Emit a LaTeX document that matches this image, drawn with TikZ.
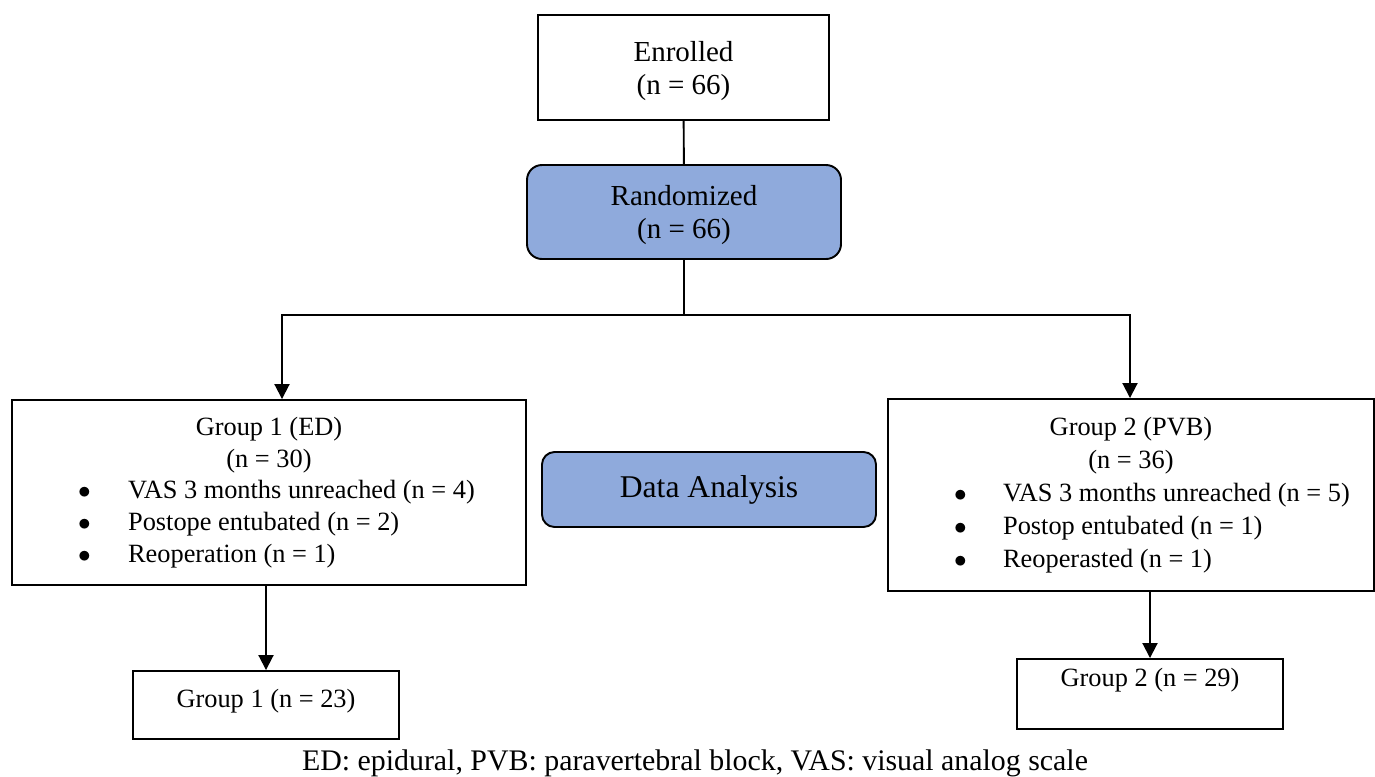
\documentclass[tikz,border=0pt]{standalone}
\usepackage{fontspec}
\setmainfont{Liberation Serif}
\usepackage{tikz}
\usetikzlibrary{shapes,arrows}
\usetikzlibrary{positioning}
\usetikzlibrary{calc}
\usetikzlibrary{arrows.meta}
\definecolor{flowblue}{RGB}{143,170,220}
\tikzstyle{line} = [draw, line width=1.1pt, -{Triangle[length=0.30cm,width=0.30cm]}]

\begin{document}
\begin{tikzpicture}[
	every node/.style={font=\fontsize{15}{18}\selectfont},
	box/.style={draw, rectangle, line width=1.1pt, fill=white, align=center},
	bluebox/.style={box, rounded corners=0.3cm, fill=flowblue},
	big/.style={font=\fontsize{16.5}{18.8}\selectfont}]
	\useasboundingbox (0,0) rectangle (27.5,-15.52);
	%% Boxes
	\node [box, big, minimum width=5.82cm, minimum height=2.10cm, text height=1.22cm] at (13.67,-1.35) (enr) {Enrolled\\(n = 66)};
	\node [bluebox, big, minimum width=6.28cm, minimum height=1.88cm, text height=1.18cm] at (13.68,-4.24) (rand) {Randomized\\(n = 66)};
	\node [box, minimum width=10.28cm, minimum height=3.70cm, inner sep=0pt] at (5.38,-9.85) (ed)
		{\begin{tabular}{@{\hspace{0.30cm}}p{0.84cm}@{\hspace{0.16cm}}l@{}}
		\multicolumn{2}{@{}c@{}}{Group 1 (ED)}\\
		\multicolumn{2}{@{}c@{}}{(n = 30)}\\
		$\bullet$ & VAS 3 months unreached (n = 4)\\
		$\bullet$ & Postope entubated (n = 2)\\
		$\bullet$ & Reoperation (n = 1)
		\end{tabular}};
	\node [bluebox, rounded corners=0.25cm, font=\fontsize{18}{21}\selectfont, minimum width=6.68cm, minimum height=1.50cm] at (14.18,-9.79) (da) {Data Analysis};
	\node [box, minimum width=9.72cm, minimum height=3.84cm, inner sep=0pt, font=\fontsize{15}{18.8}\selectfont] at (22.62,-9.90) (pvb)
		{\begin{tabular}{@{\hspace{0.84cm}}p{0.82cm}@{\hspace{0.16cm}}l@{}}
		\multicolumn{2}{@{}c@{}}{Group 2 (PVB)}\\
		\multicolumn{2}{@{}c@{}}{(n = 36)}\\
		$\bullet$ & VAS 3 months unreached (n = 5)\\
		$\bullet$ & Postop entubated (n = 1)\\
		$\bullet$ & Reoperasted (n = 1)
		\end{tabular}};
	\node [box, minimum width=5.32cm, minimum height=1.36cm, text height=0.40cm, text depth=0.32cm] at (5.32,-14.10) (g1) {Group 1 (n = 23)};
	\node [box, minimum width=5.32cm, minimum height=1.40cm, text height=0.30cm, text depth=0.62cm] at (23.00,-13.88) (g2) {Group 2 (n = 29)};
	\node [font=\fontsize{17}{20}\selectfont, anchor=base] at (13.90,-15.40) (note) {ED: epidural, PVB: paravertebral block, VAS: visual analog scale};
	%% Flows
	\coordinate (split) at (13.68,-6.30);
	\coordinate (edin) at (5.64,-6.30);
	\coordinate (pvbin) at (22.60,-6.30);
	\draw [line width=1.1pt] (enr) -- (rand);
	\draw [line width=1.1pt] (rand) -- (split);
	\path [line] (split) -- (edin) -- (edin |- ed.north);
	\path [line] (split) -- (pvbin) -- (pvbin |- pvb.north);
	\path [line] (g1.north |- ed.south) -- (g1.north);
	\path [line] (g2.north |- pvb.south) -- (g2.north);
\end{tikzpicture}
\end{document}
